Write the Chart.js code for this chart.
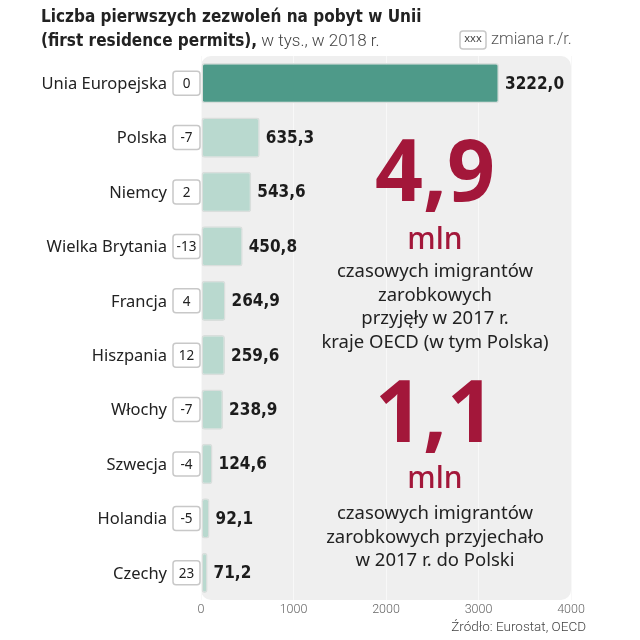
<!DOCTYPE html>
<html lang="pl">
<head>
<meta charset="UTF-8">
<title>Pierwsze zezwolenia na pobyt</title>
<script src="https://cdn.jsdelivr.net/npm/chart.js"></script>
<style>
    html, body { margin: 0; padding: 0; background: #fff; }
    #wrap { width: 640px; height: 640px; }
</style>
</head>
<body>
<div id="wrap"><canvas id="chart" width="640" height="640"></canvas></div>
<script>
    // dane
    const countries = ['Unia Europejska', 'Polska', 'Niemcy', 'Wielka Brytania', 'Francja',
                       'Hiszpania', 'Włochy', 'Szwecja', 'Holandia', 'Czechy'];
    const permits = [3222.0, 635.3, 543.6, 450.8, 264.9, 259.6, 238.9, 124.6, 92.1, 71.2];
    const changeYoY = [0, -7, 2, -13, 4, 12, -7, -4, -5, 23];
    const xTicks = [0, 1000, 2000, 3000, 4000];

    const title1 = 'Liczba pierwszych zezwoleń na pobyt w Unii';
    const title2bold = '(first residence permits),';
    const title2light = ' w tys., w 2018 r.';
    const legendText = 'zmiana r./r.';
    const source = 'Źródło: Eurostat, OECD';

    const bigFacts = [
        { value: '4,9', unit: 'mln', lines: ['czasowych imigrantów', 'zarobkowych', 'przyjęły w 2017 r.', 'kraje OECD (w tym Polska)'] },
        { value: '1,1', unit: 'mln', lines: ['czasowych imigrantów', 'zarobkowych przyjechało', 'w 2017 r. do Polski'] }
    ];

    const COND = '"Liberation Sans Narrow", "DejaVu Sans Condensed", Roboto, sans-serif';
    const SANS = '"Noto Sans", "Open Sans", sans-serif';
    const LIGHT = 'Roboto, "Noto Sans", sans-serif';
    const RED = '#a3173a';

    function roundRect(ctx, x, y, w, h, r) {
        ctx.beginPath();
        ctx.roundRect(x, y, w, h, r);
    }

    const panelPlugin = {
        id: 'panel',
        beforeDraw(chart) {
            const { ctx, chartArea: a } = chart;
            ctx.save();
            ctx.fillStyle = '#efefef';
            roundRect(ctx, a.left, a.top, a.right - a.left, a.bottom - a.top, 10);
            ctx.fill();
            ctx.restore();
        }
    };

    const labelsPlugin = {
        id: 'labels',
        afterDatasetsDraw(chart) {
            const { ctx } = chart;
            const meta = chart.getDatasetMeta(0);
            ctx.save();
            meta.data.forEach((bar, i) => {
                const y = bar.y;
                // nazwa kraju
                ctx.font = '16.5px ' + SANS;
                ctx.fillStyle = '#222';
                ctx.textAlign = 'right';
                ctx.textBaseline = 'middle';
                ctx.fillText(countries[i], 167, y + 1);
                // zmiana r/r
                ctx.fillStyle = '#fff';
                ctx.strokeStyle = '#c8c8c8';
                ctx.lineWidth = 1.5;
                roundRect(ctx, 173, y - 12, 27, 24, 3);
                ctx.fill();
                ctx.stroke();
                ctx.fillStyle = '#222';
                ctx.textAlign = 'center';
                ctx.font = '13.5px ' + SANS;
                ctx.fillText(String(changeYoY[i]), 186.5, y + 1);
                // wartość
                ctx.font = 'bold 17px ' + COND;
                ctx.textAlign = 'left';
                ctx.fillStyle = '#1c1c1c';
                ctx.fillText(permits[i].toFixed(1).replace('.', ','), bar.x + 6, y + 1);
            });

            // tytuł
            ctx.textAlign = 'left';
            ctx.textBaseline = 'alphabetic';
            ctx.fillStyle = '#222';
            ctx.font = 'bold 17px ' + COND;
            ctx.fillText(title1, 41, 22);
            ctx.fillText(title2bold, 41, 46);
            const w = ctx.measureText(title2bold).width;
            ctx.font = '300 17px ' + LIGHT;
            ctx.fillStyle = '#444';
            ctx.fillText(title2light, 41 + w, 46);

            // legenda
            ctx.fillStyle = '#fff';
            ctx.strokeStyle = '#c8c8c8';
            ctx.lineWidth = 1.5;
            roundRect(ctx, 460, 31, 26, 18, 3);
            ctx.fill();
            ctx.stroke();
            ctx.fillStyle = '#444';
            ctx.font = '11px ' + SANS;
            ctx.textAlign = 'center';
            ctx.textBaseline = 'middle';
            ctx.fillText('xxx', 473, 39);
            ctx.font = '300 16.5px ' + LIGHT;
            ctx.textAlign = 'left';
            ctx.fillStyle = '#555';
            ctx.fillText(legendText, 491, 40);

            // duże liczby
            const cx = 435;
            const tops = [{ num: 201, unit: 249, line: 272 }, { num: 442, unit: 488, line: 514 }];
            bigFacts.forEach((f, k) => {
                const t = tops[k];
                ctx.textAlign = 'center';
                ctx.textBaseline = 'alphabetic';
                ctx.fillStyle = RED;
                ctx.font = 'bold 86px ' + SANS;
                const nw = ctx.measureText(f.value).width;
                const sx = Math.min(1, 120 / nw);
                ctx.save();
                ctx.translate(cx, t.num);
                ctx.scale(sx, 1);
                ctx.fillText(f.value, 0, 0);
                ctx.restore();
                ctx.font = '500 30px ' + SANS;
                ctx.fillText(f.unit, cx, t.unit);
                ctx.fillStyle = '#222';
                ctx.font = '18.5px ' + SANS;
                ctx.textBaseline = 'middle';
                f.lines.forEach((ln, j) => ctx.fillText(ln, cx, t.line + j * 23.5));
            });

            // źródło
            ctx.font = '300 13.5px ' + LIGHT;
            ctx.fillStyle = '#444';
            ctx.textAlign = 'right';
            ctx.textBaseline = 'middle';
            ctx.fillText(source, 586, 628);
            ctx.restore();
        }
    };

    new Chart(document.getElementById('chart').getContext('2d'), {
        type: 'bar',
        data: {
            labels: countries,
            datasets: [{
                data: permits,
                backgroundColor: permits.map((_, i) => i === 0 ? '#4e9a89' : '#b9d9cf'),
                borderColor: '#d9dedc',
                borderWidth: 1.5,
                borderRadius: 3,
                borderSkipped: false,
                barPercentage: 0.74,
                categoryPercentage: 1.0
            }]
        },
        options: {
            indexAxis: 'y',
            responsive: false,
            animation: false,
            layout: { padding: { left: 201, right: 69, top: 56, bottom: 21 } },
            plugins: { legend: { display: false }, tooltip: { enabled: false } },
            scales: {
                y: { display: false },
                x: {
                    min: 0,
                    max: 4000,
                    afterBuildTicks(axis) { axis.ticks = xTicks.map(v => ({ value: v })); },
                    grid: { color: '#f8f8f8', lineWidth: 1, drawTicks: false },
                    border: { display: false },
                    ticks: {
                        color: '#666',
                        font: { size: 12.5, family: LIGHT, weight: '300' },
                        padding: 2,
                        callback: v => String(v)
                    }
                }
            }
        },
        plugins: [panelPlugin, labelsPlugin]
    });
</script>
</body>
</html>
